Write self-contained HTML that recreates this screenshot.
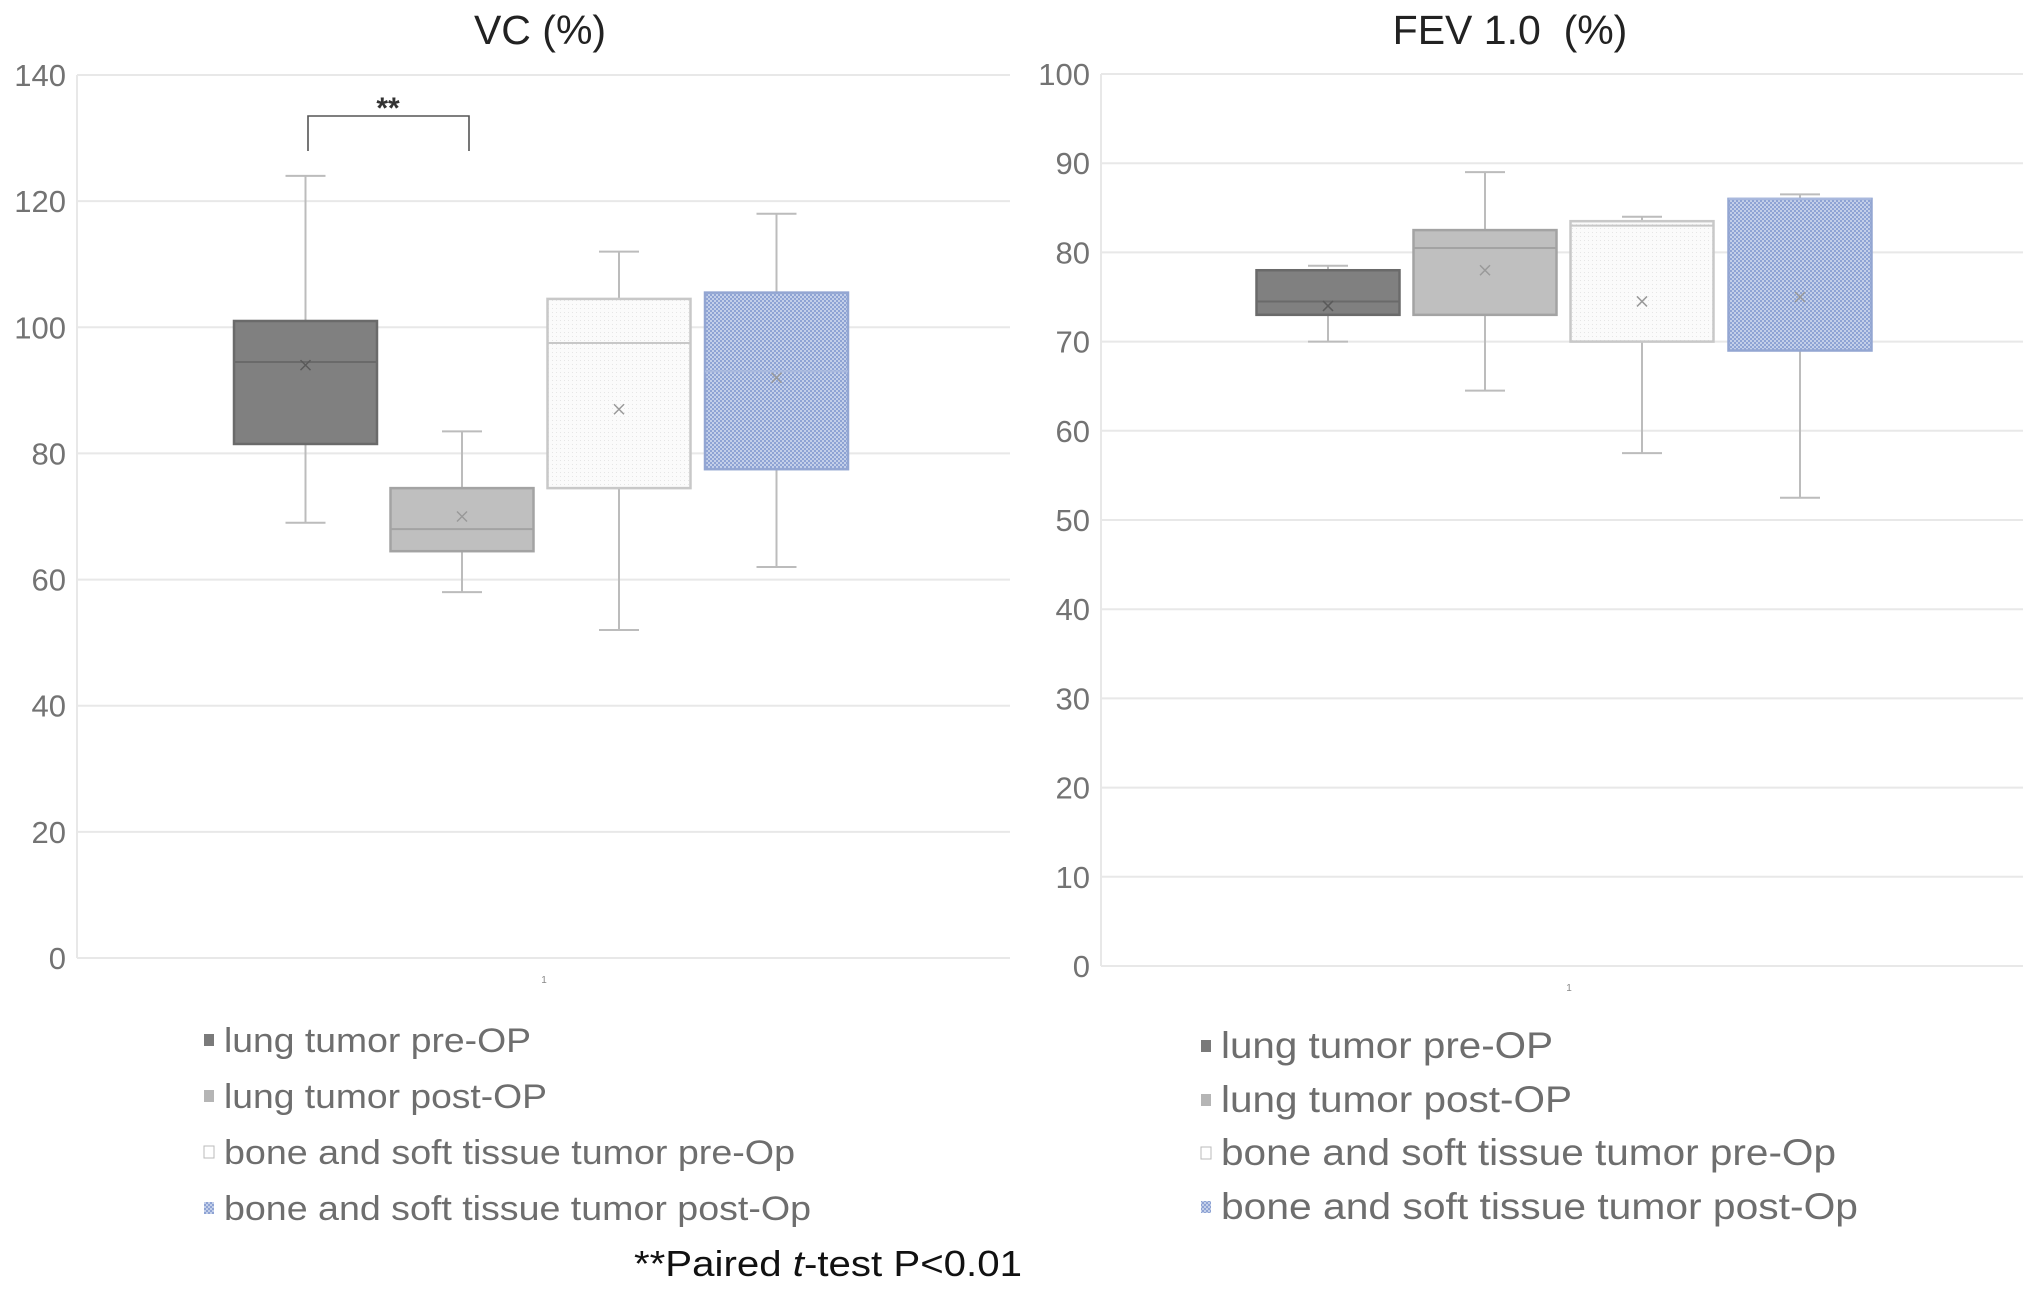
<!DOCTYPE html>
<html><head><meta charset="utf-8">
<style>
html,body{margin:0;padding:0;background:#fff;}
svg{display:block;font-family:"Liberation Sans",sans-serif;}
</style></head>
<body>
<svg id="fig" width="2031" height="1294" viewBox="0 0 2031 1294">
<defs>
<pattern id="dots" width="4" height="4" patternUnits="userSpaceOnUse"><rect width="4" height="4" fill="#fbfbfb"/><rect width="1" height="1" fill="#e6e6e6"/></pattern>
<pattern id="check" width="4" height="4" patternUnits="userSpaceOnUse"><rect width="4" height="4" fill="#c3cfe9"/><rect width="2" height="2" fill="#8ea3d4"/><rect x="2" y="2" width="2" height="2" fill="#8ea3d4"/></pattern>
</defs>
<g id="left"></g>
<g id="right"></g>
<text x="540" y="44" text-anchor="middle" font-size="41" fill="#222">VC (%)</text>
<text x="1510" y="44" text-anchor="middle" font-size="41" fill="#222">FEV 1.0 &#160;(%)</text>
<g>
<path d="M308 151 V116 H469 V151" fill="none" stroke="#555" stroke-width="1.6"/>
<text x="388" y="118" text-anchor="middle" font-size="30" font-weight="bold" fill="#333">**</text>
</g>
<text x="634" y="1276" font-size="36" fill="#111" textLength="388" lengthAdjust="spacingAndGlyphs">**Paired <tspan font-style="italic">t</tspan>-test P&lt;0.01</text>
<g id="legends"></g>
</svg>
<script>
const categories = ["lung tumor pre-OP","lung tumor post-OP","bone and soft tissue tumor pre-Op","bone and soft tissue tumor post-Op"];
// [min, q1, median, q3, max, mean]
const vcValues = [[69,81.5,94.5,101,124,94],[58,64.5,68,74.5,83.5,70],[52,74.5,97.5,104.5,112,87],[62,77.5,93,105.5,118,92]];
const fevValues = [[70,73,74.5,78,78.5,74],[64.5,73,80.5,82.5,89,78],[57.5,70,83,83.5,84,74.5],[52.5,69,86,86,86.5,75]];
const vcTicks = [0,20,40,60,80,100,120,140];
const fevTicks = [0,10,20,30,40,50,60,70,80,90,100];

const NS="http://www.w3.org/2000/svg";
function mk(tag,attrs,parent){const e=document.createElementNS(NS,tag);for(const k in attrs)e.setAttribute(k,attrs[k]);parent.appendChild(e);return e;}
const fills=["#808080","#bfbfbf","url(#dots)","url(#check)"];
const strokes=["#6a6a6a","#a3a3a3","#c8c8c8","#93a6d2"];
const medStroke=["#6a6a6a","#a3a3a3","#c8c8c8","#a9b9de"];

function drawChart(g,vals,ticks,cfg){
  const max=ticks[ticks.length-1];
  const y=v=>cfg.y0-(v/max)*(cfg.y0-cfg.yTop);
  ticks.forEach(t=>{
    const l=mk('line',{x1:cfg.x0,x2:cfg.x1,y1:y(t),y2:y(t),stroke:'#e8e8e8','stroke-width':2},g);
    
    
    const tx=mk('text',{x:cfg.labelX,y:y(t)+11,'text-anchor':'end','font-size':31,fill:'#737373'},g);
    tx.textContent=t;
    
    
  });
  const ax=mk('line',{x1:cfg.x0,x2:cfg.x0,y1:cfg.yTop,y2:cfg.y0,stroke:'#e8e8e8','stroke-width':2},g);
  
  
  const one=mk('text',{x:cfg.oneX,y:cfg.y0+25,'text-anchor':'middle','font-size':10,fill:'#888'},g);
  one.textContent='1';
  
  
  const w=143;
  vals.forEach((d,i)=>{
    const cx=cfg.centers[i];
    const bg=mk('g',{},g);
    
    
    const ws='#bcbcbc';
    mk('line',{x1:cx,x2:cx,y1:y(d[4]),y2:y(d[3]),stroke:ws,'stroke-width':2},bg);
    mk('line',{x1:cx,x2:cx,y1:y(d[1]),y2:y(d[0]),stroke:ws,'stroke-width':2},bg);
    mk('line',{x1:cx-20,x2:cx+20,y1:y(d[4]),y2:y(d[4]),stroke:ws,'stroke-width':2},bg);
    mk('line',{x1:cx-20,x2:cx+20,y1:y(d[0]),y2:y(d[0]),stroke:ws,'stroke-width':2},bg);
    mk('rect',{x:cx-w/2,y:y(d[3]),width:w,height:y(d[1])-y(d[3]),fill:fills[i],stroke:strokes[i],'stroke-width':2.5},bg);
    mk('line',{x1:cx-w/2,x2:cx+w/2,y1:y(d[2]),y2:y(d[2]),stroke:medStroke[i],'stroke-width':2},bg);
    const my=y(d[5]);
    mk('path',{d:`M${cx-5} ${my-5}L${cx+5} ${my+5}M${cx+5} ${my-5}L${cx-5} ${my+5}`,stroke:i==0?'#5a5a5a':'#999','stroke-width':1.5},bg);
  });
}
drawChart(document.getElementById('left'),vcValues,vcTicks,{x0:77,x1:1010,y0:958,yTop:75,labelX:66,oneX:544,centers:[305.5,462,619,776.5]});
drawChart(document.getElementById('right'),fevValues,fevTicks,{x0:1101,x1:2023,y0:966,yTop:74,labelX:1090,oneX:1569,centers:[1328,1485,1642,1800]});

const legSw=["#7a7a7a","#b5b5b5","#fff","url(#check)"];
const legSt=["none","none","#bbb","none"];
function legend(x,ys,fs,widths,prefix){
  const lg=document.getElementById('legends');
  categories.forEach((c,i)=>{
    const g=mk('g',{},lg);
    
    
    mk('rect',{x:x,y:ys[i]-18,width:10,height:12,fill:legSw[i],stroke:legSt[i],'stroke-width':1},g);
    const t=mk('text',{x:x+20,y:ys[i],'font-size':fs,fill:'#6e6e6e',textLength:widths[i],lengthAdjust:'spacingAndGlyphs'},g);
    t.textContent=c;
  });
}
legend(204,[1052,1108,1164,1220],34,[307,323,571,587],'vc');
legend(1201,[1058,1112,1165,1219],37,[332,351,615,637],'fev');
</script>
</body></html>
